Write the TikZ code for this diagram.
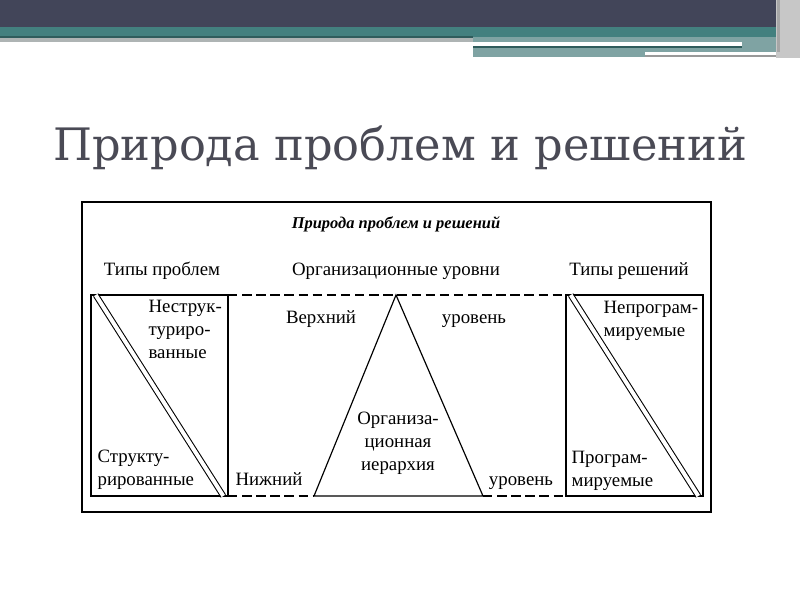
\documentclass[tikz,border=0pt]{standalone}
\usepackage{fontspec}
\setmainfont{Liberation Serif}
\newfontfamily\titlefont{DejaVu Serif}
\usetikzlibrary{positioning}

\definecolor{bandDark}{HTML}{424559}
\definecolor{bandTeal}{HTML}{43807F}
\definecolor{bandLine}{HTML}{2F5C5C}
\definecolor{bandGray}{HTML}{AEB4B4}
\definecolor{bandSea}{HTML}{7FA3A3}
\definecolor{titleGray}{HTML}{4A4A55}

\tikzset{
  lbl/.style={font=\fontsize{16}{19.5}\selectfont, inner sep=0pt},
  lvl/.style={lbl, anchor=base},
  lblblock/.style={lbl, align=left, anchor=west},
  typebox/.style={draw, line width=1pt},
  diag/.style={double, double distance=3.4pt, line width=0.9pt},
  levelline/.style={dashed, dash pattern=on 8pt off 4pt, line width=0.9pt}
}

\begin{document}
\begin{tikzpicture}[x=0.85pt,y=-0.85pt,line width=1pt]
\useasboundingbox (0,0) rectangle (800,600);
% ---------- шапка слайда ----------
\fill[bandDark] (0,0) rectangle (800,27);
\fill[bandTeal] (0,27) rectangle (800,37);
\fill[bandLine] (0,36) rectangle (473,37.5);
\fill[bandGray] (0,37.5) rectangle (473,42);
\fill[bandSea] (473,37) rectangle (776,57);
\fill[white] (473,42) rectangle (742,46);
\fill[bandLine] (473,46) rectangle (742,48);
\fill[white] (645,52) rectangle (785,55);
\fill[black!40] (645,55) rectangle (785,57);
\fill[black!22] (776,0) rectangle (800,58);
\fill[black!35] (777,0) rectangle (780,52);
% заголовок
\node[font=\titlefont\fontsize{38}{44}\selectfont, text=titleGray] (title) at (400,148) {Природа проблем и решений};

% ---------- рамка рисунка ----------
\draw[line width=1.4pt] (82,202) rectangle (711,512);
\node[lbl, font=\bfseries\itshape\fontsize{14}{16}\selectfont] (head) at (396,224) {Природа проблем и решений};
\node[lbl] (probTypes) at (162,271) {Типы проблем};
\node[lbl] (orgLevels) at (396,271) {Организационные уровни};
\node[lbl] (decTypes) at (629,271) {Типы решений};

% ---------- (a) типы проблем ----------
\coordinate (pNW) at (91,295);
\coordinate (pSE) at (228,496);
\draw[typebox] (pNW) rectangle (pSE);
\draw[diag] ([xshift=4]pNW) -- ([xshift=-4]pSE);
\node[lblblock] (unstruct) at (148,329) {Неструк-\\туриро-\\ванные};
\node[lblblock] (struct) at (97,470) {Структу-\\рированные};

% ---------- (b) пирамида уровней ----------
\coordinate (apex) at (396,295);
\coordinate (baseL) at (314,496);
\coordinate (baseR) at (483,496);
\draw (apex) -- (baseL) -- (baseR) -- cycle;
\coordinate (rNW) at (566,295);
\coordinate (rSE) at (703,496);
\draw[levelline] (pSE |- pNW) -- (rNW);
\draw[levelline] (pSE) -- (baseL);
\draw[levelline] (baseR) -- (rNW |- rSE);
\node[lvl] (topL) at (321,323) {Верхний};
\node[lvl] (topR) at (474,323) {уровень};
\node[lvl] (botL) at (269,485) {Нижний};
\node[lvl] (botR) at (521,485) {уровень};
\node[lbl, align=center] (hier) at (398,443) {Организа-\\ционная\\иерархия};

% ---------- (c) типы решений ----------
\draw[typebox] (rNW) rectangle (rSE);
\draw[diag] ([xshift=4]rNW) -- ([xshift=-4]rSE);
\node[lblblock] (unprog) at (603,321) {Непрограм-\\мируемые};
\node[lblblock] (prog) at (571,471) {Програм-\\мируемые};
\end{tikzpicture}
\end{document}
